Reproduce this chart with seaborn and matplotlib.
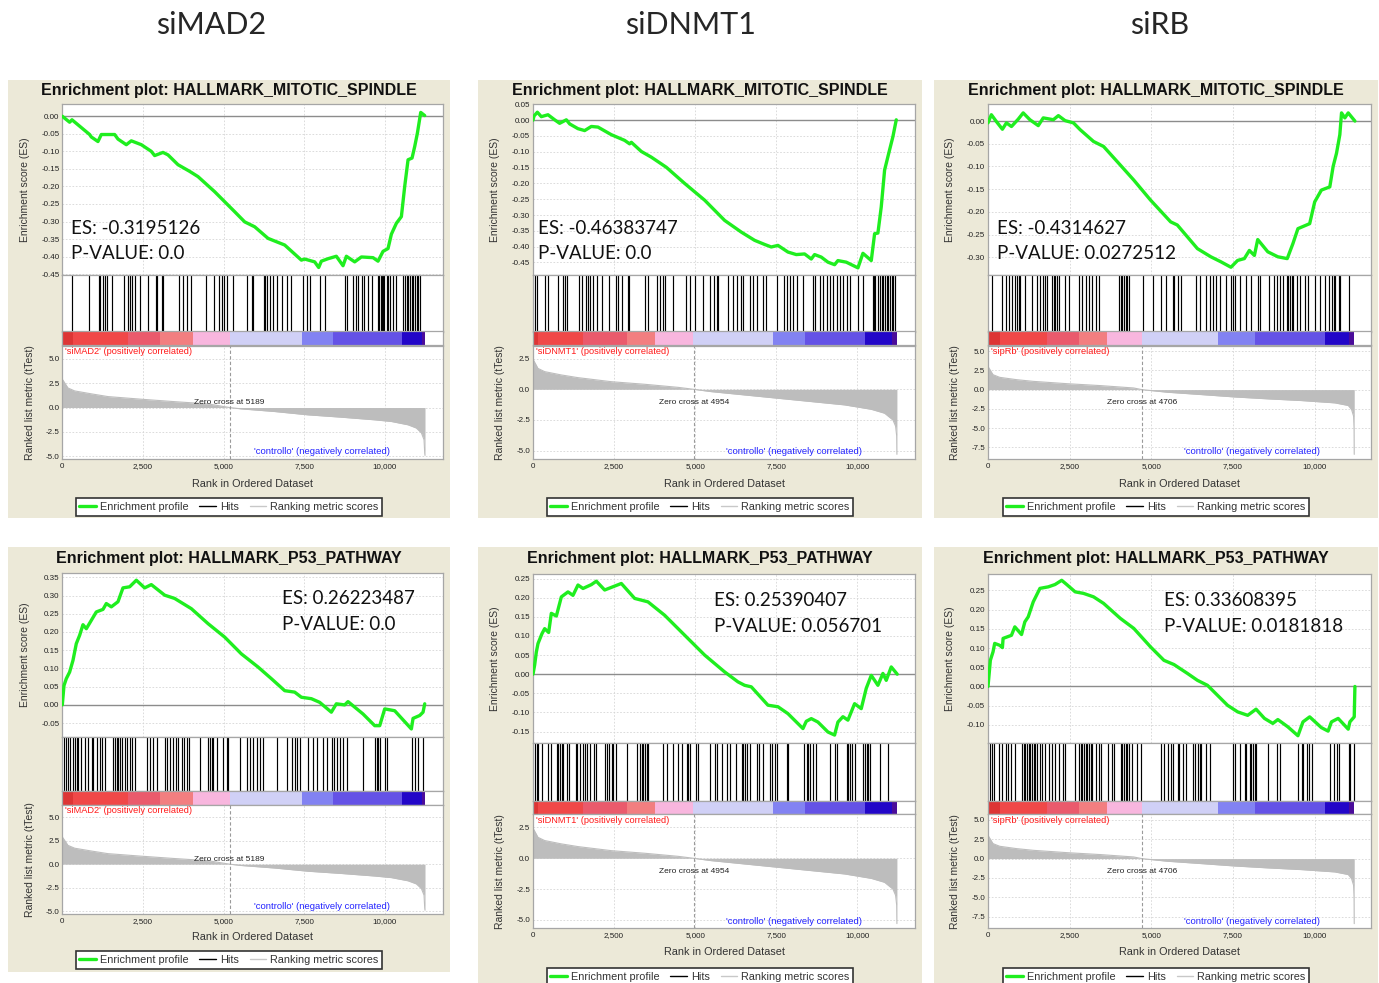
import numpy as np
import matplotlib
matplotlib.use("Agg")
import matplotlib.pyplot as plt
import matplotlib.transforms as mtransforms
from matplotlib.patches import Rectangle
from matplotlib.lines import Line2D
from matplotlib.ticker import FixedLocator, FuncFormatter
import seaborn as sns

sns.set_style("white")
plt.rcParams['font.family'] = ['Liberation Sans', 'DejaVu Sans']

# ---------------- DATA ----------------
column_titles = ["siMAD2", "siDNMT1", "siRB"]
gene_sets = ["HALLMARK_MITOTIC_SPINDLE", "HALLMARK_P53_PATHWAY"]
pos_labels = ["'siMAD2' (positively correlated)", "'siDNMT1' (positively correlated)",
              "'sipRb' (positively correlated)"]
neg_label = "'controllo' (negatively correlated)"
zero_cross = [5189, 4954, 4706]
es_text = ["ES: -0.3195126", "ES: -0.46383747", "ES: -0.4314627",
           "ES: 0.26223487", "ES: 0.25390407", "ES: 0.33608395"]
p_text = ["P-VALUE: 0.0", "P-VALUE: 0.0", "P-VALUE: 0.0272512",
          "P-VALUE: 0.0", "P-VALUE: 0.056701", "P-VALUE: 0.0181818"]

es_rank_1 = [0, 228, 300, 848, 900, 1106, 1210, 1624, 1727, 1985, 2140, 2451, 2761, 2864, 3123, 3278,
             3588, 3950, 4209, 4726, 5346, 5657, 5967, 6381, 6898, 7415, 7518, 7828, 7952, 8035, 8242,
             8500, 8707, 8811, 9069, 9276, 9638, 9793, 9948, 10103, 10207, 10362, 10517, 10620, 10724,
             10848, 10931, 11014, 11117, 11241]
es_val_1 = [0.000, -0.017, -0.010, -0.052, -0.059, -0.072, -0.052, -0.052, -0.065, -0.081, -0.070,
            -0.081, -0.100, -0.112, -0.103, -0.110, -0.138, -0.157, -0.172, -0.215, -0.272, -0.301,
            -0.315, -0.348, -0.367, -0.410, -0.407, -0.415, -0.431, -0.413, -0.406, -0.399, -0.426,
            -0.399, -0.415, -0.401, -0.403, -0.413, -0.385, -0.377, -0.336, -0.305, -0.286, -0.200,
            -0.124, -0.119, -0.086, -0.048, 0.011, 0.002]

es_rank_2 = [0, 31, 134, 257, 462, 668, 822, 1028, 1131, 1387, 1593, 1799, 2004, 2415, 2826, 2980,
             3032, 3340, 3648, 4111, 4676, 5293, 5910, 6424, 6835, 7143, 7348, 7554, 7862, 8119, 8376,
             8582, 8684, 8890, 9096, 9301, 9404, 9661, 10021, 10175, 10432, 10535, 10637, 10740, 10843,
             10997, 11100, 11203]
es_val_2 = [0.000, 0.013, 0.025, 0.011, 0.017, 0.001, -0.010, 0.001, -0.012, -0.027, -0.033, -0.020,
            -0.022, -0.046, -0.064, -0.075, -0.070, -0.099, -0.117, -0.149, -0.200, -0.253, -0.317,
            -0.354, -0.380, -0.393, -0.401, -0.396, -0.417, -0.425, -0.423, -0.439, -0.425, -0.433,
            -0.449, -0.457, -0.444, -0.449, -0.467, -0.421, -0.444, -0.359, -0.357, -0.274, -0.158,
            -0.094, -0.052, 0.001]

es_rank_3 = [0, 103, 256, 441, 564, 718, 923, 1077, 1282, 1538, 1692, 2000, 2154, 2359, 2615, 2821,
             3231, 3538, 4051, 4462, 4974, 5590, 5795, 6410, 6821, 7128, 7436, 7641, 7846, 8000, 8154,
             8256, 8564, 8872, 9159, 9333, 9487, 9846, 10000, 10205, 10462, 10564, 10667, 10769, 10821,
             10923, 11026, 11231]
es_val_3 = [-0.004, 0.014, -0.001, -0.018, -0.004, -0.012, 0.004, 0.018, 0.003, -0.010, 0.007, 0.003,
            0.012, 0.001, -0.004, -0.019, -0.045, -0.056, -0.097, -0.130, -0.174, -0.222, -0.229,
            -0.281, -0.299, -0.310, -0.322, -0.307, -0.303, -0.285, -0.296, -0.261, -0.288, -0.299,
            -0.303, -0.270, -0.237, -0.226, -0.178, -0.152, -0.145, -0.100, -0.071, -0.030, 0.018,
            0.007, 0.018, 0.000]

es_rank_4 = [0, 52, 124, 227, 331, 434, 538, 641, 745, 900, 1055, 1262, 1365, 1520, 1727, 1882, 2089,
             2296, 2554, 2761, 3175, 3485, 4002, 4519, 5036, 5553, 6070, 6484, 6898, 7208, 7415, 7725,
             7983, 8345, 8500, 8759, 8862, 9328, 9690, 9845, 10000, 10310, 10827, 10879, 11086, 11189,
             11241]
es_val_4 = [0.000, 0.053, 0.072, 0.090, 0.122, 0.168, 0.191, 0.220, 0.209, 0.232, 0.255, 0.262, 0.278,
            0.269, 0.283, 0.321, 0.324, 0.342, 0.321, 0.330, 0.301, 0.292, 0.264, 0.223, 0.186, 0.140,
            0.104, 0.072, 0.039, 0.035, 0.021, 0.017, 0.007, -0.020, 0.003, 0.000, 0.009, -0.025,
            -0.057, -0.057, -0.011, -0.016, -0.066, -0.037, -0.029, -0.020, 0.003]

es_rank_5 = [0, 51, 103, 154, 277, 360, 483, 565, 720, 874, 1079, 1233, 1387, 1542, 1799, 1953, 2210,
             2724, 3135, 3546, 4060, 4676, 5293, 5910, 6321, 6526, 6732, 7246, 7554, 7862, 8325, 8428,
             8582, 8787, 9096, 9301, 9404, 9558, 9712, 9918, 10123, 10277, 10432, 10637, 10791, 10894,
             11048, 11233]
es_val_5 = [0.000, 0.024, 0.058, 0.080, 0.106, 0.119, 0.109, 0.159, 0.152, 0.202, 0.215, 0.206, 0.233,
            0.224, 0.234, 0.243, 0.220, 0.237, 0.198, 0.189, 0.154, 0.102, 0.050, 0.006, -0.020,
            -0.029, -0.033, -0.081, -0.085, -0.103, -0.142, -0.123, -0.116, -0.125, -0.151, -0.159,
            -0.125, -0.111, -0.120, -0.077, -0.090, -0.037, -0.003, -0.029, 0.002, -0.016, 0.019, 0.000]

es_rank_6 = [0, 31, 72, 154, 205, 359, 441, 462, 718, 821, 1026, 1128, 1231, 1385, 1590, 1846, 2051,
             2256, 2410, 2667, 2923, 3231, 3538, 4051, 4462, 4974, 5385, 5692, 6103, 6410, 6718, 7026,
             7333, 7641, 7949, 8205, 8462, 8718, 8872, 9179, 9487, 9641, 9846, 10205, 10410, 10513,
             10718, 11026, 11077, 11210, 11231]
es_val_6 = [0.000, 0.029, 0.068, 0.090, 0.112, 0.107, 0.101, 0.125, 0.133, 0.155, 0.135, 0.168, 0.181,
            0.220, 0.255, 0.259, 0.265, 0.276, 0.265, 0.246, 0.242, 0.233, 0.216, 0.177, 0.151, 0.103,
            0.068, 0.057, 0.034, 0.016, 0.003, -0.023, -0.049, -0.066, -0.075, -0.059, -0.083, -0.096,
            -0.086, -0.105, -0.128, -0.092, -0.079, -0.107, -0.116, -0.092, -0.083, -0.111, -0.092,
            -0.079, 0.000]

hits_1 = [290, 827, 1137, 1168, 1272, 1324, 1386, 1530, 1923, 2047, 2099, 2151, 2254, 2409, 2668, 2895,
          2926, 3081, 3112, 3619, 3753, 3857, 3981, 4446, 4715, 4870, 4943, 5025, 5098, 5305, 5718, 5873,
          5904, 6256, 6287, 6359, 6442, 6545, 6649, 6804, 6959, 7083, 7455, 7579, 7683, 7993, 8148, 8768,
          8820, 9027, 9110, 9182, 9285, 9358, 9492, 9596, 9803, 9833, 9875, 9906, 9937, 9978, 10061,
          10113, 10164, 10268, 10350, 10578, 10630, 10681, 10733, 10785, 10837, 10888, 10940, 10992,
          11043, 11095]
hits_2 = [62, 134, 370, 473, 781, 935, 987, 1038, 1429, 1501, 1635, 1706, 1758, 1861, 1963, 2118, 2354,
          2560, 2632, 2734, 2940, 2971, 3454, 3557, 3814, 3917, 4019, 4071, 4328, 4719, 4842, 4996, 5253,
          5459, 5582, 5664, 5716, 6024, 6178, 6302, 6404, 6487, 6692, 6775, 6898, 7103, 7186, 7515, 7741,
          7823, 7926, 8029, 8131, 8337, 8625, 8697, 8851, 8954, 9056, 9159, 9262, 9365, 9468, 9571, 9673,
          9776, 10033, 10187, 10475, 10516, 10547, 10650, 10701, 10753, 10804, 10855, 10907, 10958,
          11010, 11061, 11113, 11164]
hits_3 = [113, 441, 544, 646, 728, 831, 882, 934, 985, 1139, 1344, 1498, 1601, 1672, 1754, 1806, 1960,
          2011, 2062, 2114, 2185, 2370, 2473, 2780, 2883, 3006, 3088, 3170, 3293, 3396, 4012, 4063, 4114,
          4166, 4217, 4268, 4319, 4730, 5038, 5294, 5448, 5653, 5705, 5807, 5910, 6371, 6474, 6679, 6782,
          6884, 6987, 7090, 7295, 7449, 7500, 7551, 7705, 7910, 8064, 8270, 8321, 8608, 8752, 8834, 8936,
          9039, 9142, 9193, 9244, 9296, 9347, 9449, 9552, 9706, 9809, 10014, 10168, 10322, 10424, 10527,
          10578, 10629, 10732, 10783, 11040]
hits_4 = [52, 114, 186, 238, 321, 393, 445, 496, 569, 703, 807, 910, 962, 1065, 1168, 1220, 1324, 1582,
          1634, 1685, 1737, 1789, 1841, 1944, 1996, 2099, 2151, 2254, 2637, 2719, 2823, 2947, 3185, 3257,
          3340, 3443, 3526, 3598, 3702, 3774, 3857, 3940, 4271, 4529, 4581, 4632, 4684, 4787, 4994, 5098,
          5149, 5511, 5718, 5821, 5925, 6028, 6132, 6235, 6649, 6959, 7114, 7217, 7269, 7372, 7631, 7786,
          7889, 8096, 8199, 8355, 8427, 8510, 8613, 8717, 8841, 9337, 9699, 9751, 9803, 9854, 10009,
          10061, 10837, 10940, 11043, 11198]
hits_5 = [62, 113, 164, 267, 473, 545, 730, 781, 833, 884, 935, 1038, 1121, 1326, 1367, 1450, 1552,
          1604, 1655, 1758, 1881, 1943, 2220, 2272, 2354, 2426, 2477, 2560, 2909, 3197, 3300, 3351, 3403,
          3454, 3505, 3557, 4019, 4143, 4328, 4482, 4585, 4739, 4790, 4842, 5027, 5099, 5459, 5613, 5685,
          5818, 5973, 6075, 6261, 6435, 6487, 6538, 6589, 6692, 6898, 6980, 7103, 7309, 7360, 7463, 7515,
          7823, 7874, 8358, 8440, 8491, 8543, 8625, 8728, 9159, 9314, 9365, 9673, 9725, 9776, 9828, 9930,
          10187, 10239, 10290, 10341, 10393, 10701, 10958]
hits_6 = [62, 133, 195, 339, 421, 544, 605, 708, 831, 1036, 1088, 1139, 1190, 1241, 1293, 1344, 1395,
          1447, 1498, 1601, 1652, 1754, 1878, 1960, 2062, 2165, 2288, 2370, 2657, 2780, 2832, 2883, 2934,
          2986, 3037, 3088, 3140, 3191, 3293, 3396, 3447, 3683, 3806, 3858, 4063, 4114, 4166, 4217, 4268,
          4319, 4422, 4576, 4679, 5294, 5397, 5499, 5602, 5653, 5807, 5858, 5961, 6064, 6289, 6351, 6423,
          6474, 6525, 6679, 6802, 7500, 7551, 7705, 7859, 7910, 8013, 8064, 8116, 8167, 8198, 8577, 8834,
          8936, 9501, 9603, 9655, 9757, 9839, 9911, 10475, 10578, 10681, 10732, 11040, 11091, 11194]

metric_rank_c1 = [0, 176, 383, 900, 1417, 2451, 3485, 4519, 5189, 5553, 6587, 7622, 8656, 9690, 10207,
                  10724, 10982, 11138, 11220, 11241, 11250]
metric_val_c1 = [2.9, 2.0, 1.7, 1.4, 1.12, 0.85, 0.6, 0.37, 0.0, -0.14, -0.41, -0.75, -0.99, -1.26,
                 -1.43, -1.77, -2.1, -2.6, -3.3, -4.66, -4.9]
metric_rank_c2 = [0, 154, 360, 873, 1387, 2415, 3443, 4471, 4954, 5498, 6526, 7554, 8582, 9609, 10432,
                  10843, 11100, 11182, 11216, 11223]
metric_val_c2 = [2.45, 1.7, 1.44, 1.17, 0.95, 0.62, 0.41, 0.16, 0.0, -0.19, -0.46, -0.73, -1.0, -1.27,
                 -1.63, -1.95, -2.5, -3.0, -3.8, -5.3]
metric_rank_c3 = [0, 154, 359, 872, 1385, 2410, 3436, 4462, 4706, 5487, 6513, 7538, 8564, 9590, 10615,
                  11026, 11128, 11190, 11205, 11210]
metric_val_c3 = [3.0, 1.93, 1.59, 1.29, 1.07, 0.77, 0.52, 0.21, 0.0, -0.34, -0.64, -0.95, -1.2, -1.42,
                 -1.72, -2.06, -2.58, -3.44, -5.0, -8.4]

cbar_edges_c1 = [0, 341, 2047, 3030, 4064, 5201, 7424, 8406, 10526, 11147, 11250]
cbar_edges_c2 = [0, 164, 1552, 2889, 3762, 4945, 7412, 8388, 10239, 11061, 11216]
cbar_edges_c3 = [0, 369, 1806, 2780, 3653, 4709, 7038, 8167, 10322, 11040, 11214]

es_ticks_1 = [0.00, -0.05, -0.10, -0.15, -0.20, -0.25, -0.30, -0.35, -0.40, -0.45]
es_ticks_2 = [0.05, 0.00, -0.05, -0.10, -0.15, -0.20, -0.25, -0.30, -0.35, -0.40, -0.45]
es_ticks_3 = [0.00, -0.05, -0.10, -0.15, -0.20, -0.25, -0.30]
es_ticks_4 = [0.35, 0.30, 0.25, 0.20, 0.15, 0.10, 0.05, 0.00, -0.05]
es_ticks_5 = [0.25, 0.20, 0.15, 0.10, 0.05, 0.00, -0.05, -0.10, -0.15]
es_ticks_6 = [0.25, 0.20, 0.15, 0.10, 0.05, 0.00, -0.05, -0.10]
metric_ticks_c1 = [5.0, 2.5, 0.0, -2.5, -5.0]
metric_ticks_c2 = [2.5, 0.0, -2.5, -5.0]
metric_ticks_c3 = [5.0, 2.5, 0.0, -2.5, -5.0, -7.5]
rank_ticks = [0, 2500, 5000, 7500, 10000]

# ---------------- STYLE / LAYOUT ----------------
GREEN = '#1fee1f'
FILL_GRAY = '#bdbdbd'
BEIGE = '#ECE9D8'
SPINE = '#a6a6a6'
GRID = '#d6d6d6'
cbar_colors = ['#dd3535', '#f04848', '#ea5a6c', '#f27e80', '#f8b6de', '#d0d0f6', '#8282f2',
               '#6452e6', '#2206c8', '#4a0c9a']

W, H = 1379, 983
HEADER_X = [211, 690, 1160]
BEIGE_X = [(8, 450), (478, 922), (934, 1378)]
AXES_X = [(62.3, 443.0, 11808), (533.0, 915.3, 11790), (988.0, 1370.7, 11714)]
# beige top, beige bottom, title y, es top, es bottom, hits bottom, cbar bottom, ranked bottom, xlabel y, legend y
VLAY = [
    (80, 518, 91, 104, 274.5, 331.5, 345.5, 459, 484, 507),
    (80, 518, 91, 104, 274.5, 331.5, 345.5, 459, 484, 507),
    (80, 518, 91, 104, 274.5, 331.5, 345.5, 459, 484, 507),
    (547, 972, 559, 573.3, 736.5, 790.7, 804.5, 913.7, 937, 960),
    (547, 995, 559, 574.3, 743.3, 800.5, 814.3, 928.3, 952, 977),
    (547, 995, 559, 574.3, 743.3, 800.5, 814.3, 928.3, 952, 977),
]
ES_YLIM = [(-0.451, 0.035), (-0.488, 0.051), (-0.338, 0.0376),
           (-0.0867, 0.361), (-0.1805, 0.261), (-0.1477, 0.2916)]
RK_YLIM = [(-5.27, 6.35), (-5.68, 3.57), (-9.0, 5.72)]
TEXT_POS = [(70.7, 228, 253), (538, 228, 253), (997, 228, 253),
            (282, 598, 624), (714, 601, 627), (1164, 601, 627)]

es_ranks = [es_rank_1, es_rank_2, es_rank_3, es_rank_4, es_rank_5, es_rank_6]
es_vals = [es_val_1, es_val_2, es_val_3, es_val_4, es_val_5, es_val_6]
hits = [hits_1, hits_2, hits_3, hits_4, hits_5, hits_6]
es_ticks = [es_ticks_1, es_ticks_2, es_ticks_3, es_ticks_4, es_ticks_5, es_ticks_6]
metric_ranks = [metric_rank_c1, metric_rank_c2, metric_rank_c3]
metric_vals = [metric_val_c1, metric_val_c2, metric_val_c3]
metric_ticks = [metric_ticks_c1, metric_ticks_c2, metric_ticks_c3]
cbar_edges = [cbar_edges_c1, cbar_edges_c2, cbar_edges_c3]

fig = plt.figure(figsize=(W / 100, H / 100), dpi=100, facecolor='white')


def fx(x):
    return x / W


def fy(y):
    return 1 - y / H


def px_axes(x0, x1, ytop, ybot):
    return fig.add_axes([fx(x0), fy(ybot), (x1 - x0) / W, (ybot - ytop) / H])


def style_spines(ax):
    for s in ax.spines.values():
        s.set_visible(True)
        s.set_color(SPINE)
        s.set_linewidth(0.9)


es_fmt = FuncFormatter(lambda v, p: "0.00" if abs(v) < 1e-9 else f"{v:.2f}")
rk_fmt = FuncFormatter(lambda v, p: "0.0" if abs(v) < 1e-9 else f"{v:.1f}")
x_fmt = FuncFormatter(lambda v, p: f"{int(round(v)):,}")

for col, t in enumerate(column_titles):
    fig.text(fx(HEADER_X[col]), fy(25), t, ha='center', va='center', fontsize=22,
             family=['Lato', 'DejaVu Sans'])

for i in range(6):
    row, col = divmod(i, 3)
    bx0, bx1 = BEIGE_X[col]
    ax0, ax1, xmax = AXES_X[col]
    by0, by1, ty, es_t, es_b, hits_b, cb_b, rk_b, xl_y, lg_y = VLAY[i]
    bcx = (bx0 + bx1) / 2

    fig.patches.append(Rectangle((fx(bx0), fy(by1)), (bx1 - bx0) / W, (by1 - by0) / H,
                                 transform=fig.transFigure, facecolor=BEIGE, edgecolor='none', zorder=-5))
    fig.text(fx(bcx), fy(ty), "Enrichment plot: " + gene_sets[row], ha='center', va='center',
             fontsize=11.5, fontweight='bold', color='#111111')

    # --- enrichment score panel
    ax = px_axes(ax0, ax1, es_t, es_b)
    ax.set_facecolor('white')
    ax.axhline(0, color='#8c8c8c', lw=1.0, zorder=1)
    sns.lineplot(x=es_ranks[i], y=es_vals[i], ax=ax, color=GREEN, lw=2.4, estimator=None, sort=False,
                 zorder=3)
    ax.set_xlim(0, xmax)
    ax.set_ylim(*ES_YLIM[i])
    ax.xaxis.set_major_locator(FixedLocator(rank_ticks))
    ax.yaxis.set_major_locator(FixedLocator(es_ticks[i]))
    ax.yaxis.set_major_formatter(es_fmt)
    ax.tick_params(axis='x', labelbottom=False, length=0)
    ax.tick_params(axis='y', length=0, labelsize=5.8, pad=2, labelcolor='#222222')
    ax.grid(True, ls=(0, (2, 2)), color=GRID, lw=0.6)
    ax.set_axisbelow(True)
    ax.set_xlabel('')
    ax.set_ylabel('')
    style_spines(ax)

    # --- hits panel
    axh = px_axes(ax0, ax1, es_b, hits_b)
    axh.set_facecolor('white')
    axh.vlines(hits[i], 0, 1, color='black', lw=0.85)
    axh.set_xlim(0, xmax)
    axh.set_ylim(0, 1)
    axh.set_xticks([])
    axh.set_yticks([])
    style_spines(axh)

    # --- colour bar
    axc = px_axes(ax0, ax1, hits_b, cb_b)
    axc.set_facecolor('white')
    edges = cbar_edges[col]
    axc.bar(edges[:-1], 1, width=np.diff(edges), align='edge', color=cbar_colors, lw=0)
    axc.set_xlim(0, xmax)
    axc.set_ylim(0, 1)
    axc.set_xticks([])
    axc.set_yticks([])
    style_spines(axc)

    # --- ranked list metric
    axr = px_axes(ax0, ax1, cb_b, rk_b)
    axr.set_facecolor('white')
    axr.fill_between(metric_ranks[col], metric_vals[col], 0, color=FILL_GRAY, lw=0, zorder=2)
    sns.lineplot(x=metric_ranks[col], y=metric_vals[col], ax=axr, color=FILL_GRAY, lw=0.8,
                 estimator=None, sort=False, zorder=2)
    axr.axvline(zero_cross[col], color='#9a9a9a', ls=(0, (3, 2)), lw=0.8, zorder=3)
    axr.set_xlim(0, xmax)
    axr.set_ylim(*RK_YLIM[col])
    axr.xaxis.set_major_locator(FixedLocator(rank_ticks))
    axr.xaxis.set_major_formatter(x_fmt)
    axr.yaxis.set_major_locator(FixedLocator(metric_ticks[col]))
    axr.yaxis.set_major_formatter(rk_fmt)
    axr.tick_params(axis='both', length=0, labelsize=5.8, labelcolor='#222222')
    axr.tick_params(axis='y', pad=2)
    axr.tick_params(axis='x', pad=3)
    axr.grid(True, ls=(0, (2, 2)), color=GRID, lw=0.6)
    axr.set_axisbelow(True)
    axr.set_xlabel('')
    axr.set_ylabel('')
    style_spines(axr)
    blend = mtransforms.blended_transform_factory(axr.transData, axr.transAxes)
    axr.text(0.008, 0.945, pos_labels[col], transform=axr.transAxes, color='#ff1a1a', fontsize=6.7,
             ha='left', va='center', zorder=5)
    axr.text(10160, 0.062, neg_label, transform=blend, color='#2222ff', fontsize=6.8,
             ha='right', va='center', zorder=5)
    axr.text(zero_cross[col], 0.5, f"Zero cross at {zero_cross[col]}", transform=blend, fontsize=6,
             ha='center', va='center', color='#222222', zorder=5)

    # --- axis labels
    fig.text(fx(ax0 - 37.6), fy((es_t + es_b) / 2), 'Enrichment score (ES)', rotation=90,
             ha='center', va='center', fontsize=7.5, color='#333333')
    fig.text(fx(ax0 - 32.6), fy((cb_b + rk_b) / 2), 'Ranked list metric (tTest)', rotation=90,
             ha='center', va='center', fontsize=7.5, color='#333333')
    fig.text(fx((ax0 + ax1) / 2), fy(xl_y), 'Rank in Ordered Dataset', ha='center', va='center',
             fontsize=7.8, color='#333333')

    # --- ES / p-value annotation
    tx, ty1, ty2 = TEXT_POS[i]
    fig.text(fx(tx), fy(ty1), es_text[i], ha='left', va='center', fontsize=13.5,
             family=['Lato', 'DejaVu Sans'], color='#111111')
    fig.text(fx(tx), fy(ty2), p_text[i], ha='left', va='center', fontsize=13.5,
             family=['Lato', 'DejaVu Sans'], color='#111111')

    # --- legend
    handles = [Line2D([], [], color=GREEN, lw=2.4), Line2D([], [], color='black', lw=1.0),
               Line2D([], [], color='#c8c8c8', lw=1.0)]
    leg = fig.legend(handles, ['Enrichment profile', 'Hits', 'Ranking metric scores'], loc='center',
                     bbox_to_anchor=(fx(bcx), fy(lg_y)), ncol=3, fontsize=7.8, frameon=True,
                     fancybox=False, edgecolor='#333333', facecolor='white', framealpha=1,
                     handlelength=1.5, handletextpad=0.4, columnspacing=1.0, borderpad=0.35,
                     borderaxespad=0)
    leg.get_frame().set_linewidth(1.2)
    for txt in leg.get_texts():
        txt.set_color('#333333')

fig.savefig('out.png', dpi=100, facecolor='white')
